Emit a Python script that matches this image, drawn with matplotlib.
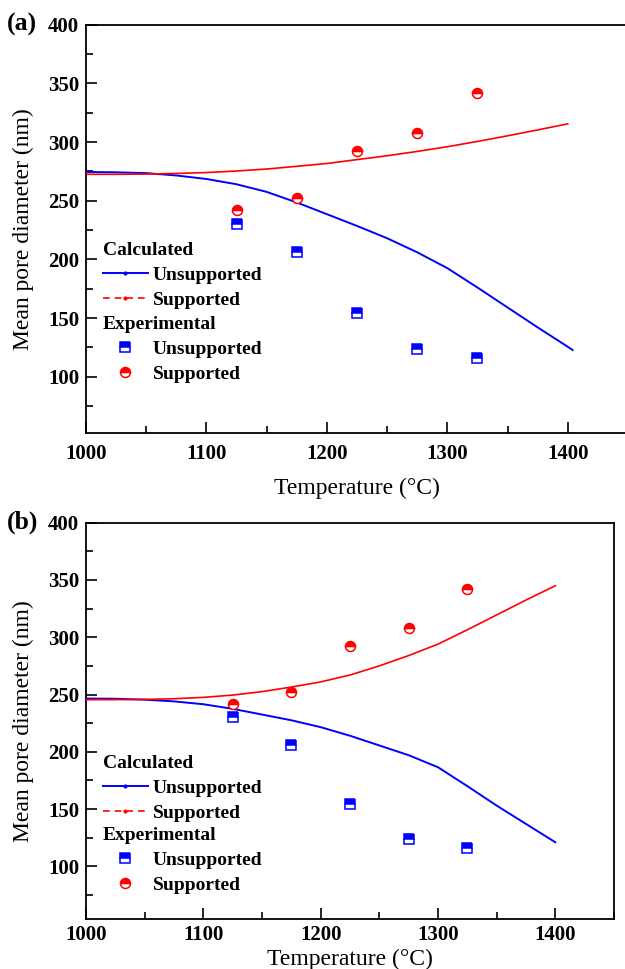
import matplotlib
matplotlib.use("Agg")
import matplotlib.pyplot as plt
from matplotlib.lines import Line2D
from matplotlib.ticker import MultipleLocator

plt.rcParams['font.family'] = ['Liberation Serif', 'DejaVu Serif']

# ---------------- data ----------------
calc_T = [1000, 1025, 1050, 1075, 1100, 1125, 1150, 1175, 1200, 1225,
          1250, 1275, 1300, 1325, 1350, 1375, 1400]

# panel (a)
a_unsup_T = calc_T + [1404]
a_unsup = [274.5, 274.2, 273.5, 271.5, 268.5, 264.0, 257.5, 248.5, 238.5, 228.5,
           218.0, 206.0, 192.5, 176.0, 159.0, 142.0, 125.5, 122.7]
a_sup = [272.5, 272.5, 272.7, 273.2, 274.0, 275.3, 277.0, 279.3, 281.7, 285.0,
         288.3, 292.0, 296.0, 300.5, 305.3, 310.3, 315.5]

# panel (b)
b_unsup = [246.5, 246.3, 245.5, 244.0, 241.5, 237.5, 232.5, 227.5, 221.5, 214.0,
           205.5, 197.0, 186.5, 170.0, 153.0, 137.0, 121.0]
b_sup = [245.5, 245.5, 245.7, 246.3, 247.5, 249.5, 252.5, 256.5, 261.0, 267.0,
         275.0, 284.0, 294.0, 306.5, 319.5, 332.5, 345.0]

# experimental
exp_T = [1125, 1175, 1225, 1275, 1325]
exp_unsup = [230, 206, 154, 124, 116]
exp_sup = [242, 252, 292, 308, 342]

xticks = [1000, 1100, 1200, 1300, 1400]
yticks = [100, 150, 200, 250, 300, 350, 400]

BLUE = '#0000ff'
RED = '#ff0000'

fig = plt.figure(figsize=(6.25, 9.69), dpi=100)

W, H = 625.0, 969.0
def add_ax(left, right, top, bottom):
    return fig.add_axes([left / W, 1 - bottom / H, (right - left) / W, (bottom - top) / H])

ax_a = add_ax(86, 628, 24.7, 433)
ax_b = add_ax(86, 614, 522.7, 919)

panels = [
    (ax_a, a_unsup_T, a_unsup, calc_T, a_sup, 52, '(a)', 0.4686, 0.2865, 55.0, 8),
    (ax_b, calc_T, b_unsup, calc_T, b_sup, 54, '(b)', 0.4144, 0.2322, 40.5, 4.5),
]

for ax, tu, yu, ts, ys, ymin, lab, ycalc, yexp, xlab_off, xpad in panels:
    ax.plot(tu, yu, color=BLUE, lw=1.4, zorder=3)
    ax.plot(ts, ys, color=RED, lw=1.2, zorder=3)
    ax.plot(exp_T, exp_unsup, ls='none', marker='s', ms=6.5, mec=BLUE, mfc=BLUE,
            mfcalt='white', fillstyle='top', mew=1.1, zorder=4)
    ax.plot(exp_T, exp_sup, ls='none', marker='o', ms=7.2, mec=RED, mfc=RED,
            mfcalt='white', fillstyle='top', mew=1.1, zorder=4)

    ax.set_xlim(1000, 1450)
    ax.set_ylim(ymin, 400)
    ax.set_xticks(xticks)
    ax.set_yticks(yticks)
    ax.xaxis.set_minor_locator(MultipleLocator(50))
    ax.yaxis.set_minor_locator(MultipleLocator(25))
    ax.tick_params(which='both', direction='in', top=False, right=False, width=1.2)
    ax.tick_params(which='major', length=8)
    ax.tick_params(which='minor', length=5)
    ax.tick_params(axis='x', which='major', pad=xpad, labelsize=15)
    ax.tick_params(axis='y', which='major', pad=5, labelsize=15)
    for t in ax.get_xticklabels() + ax.get_yticklabels():
        t.set_fontweight('bold')
    for s in ax.spines.values():
        s.set_linewidth(1.3)

    ax.set_xlabel('Temperature (\u00b0C)', fontsize=17)
    ax.set_ylabel('Mean pore diameter (nm)', fontsize=17)
    hpx = ax.get_position().height * H
    wpx = ax.get_position().width * W
    ax.xaxis.set_label_coords(0.5, -xlab_off / hpx)
    ax.xaxis.label.set_va('center')
    ax.yaxis.set_label_coords(-63.0 / wpx, 0.5)
    ax.yaxis.label.set_va('center')

    # legends
    h_calc = [
        Line2D([], [], color=BLUE, lw=1.4, marker='.', ms=4),
        Line2D([], [], color=RED, lw=1.2, ls=(0, (4, 3)), marker='.', ms=4),
    ]
    leg1 = ax.legend(h_calc, ['Unsupported', 'Supported'], loc='upper left',
                     bbox_to_anchor=(17.0 / wpx, ycalc), frameon=False,
                     title='Calculated', alignment='left', borderpad=0,
                     borderaxespad=0, handlelength=2.3, handletextpad=0.25,
                     labelspacing=0.38,
                     prop={'weight': 'bold', 'size': 14},
                     title_fontproperties={'weight': 'bold', 'size': 14})
    ax.add_artist(leg1)
    h_exp = [
        Line2D([], [], ls='none', marker='s', ms=6.5, mec=BLUE, mfc=BLUE,
               mfcalt='white', fillstyle='top', mew=1.1),
        Line2D([], [], ls='none', marker='o', ms=7.2, mec=RED, mfc=RED,
               mfcalt='white', fillstyle='top', mew=1.1),
    ]
    ax.legend(h_exp, ['Unsupported', 'Supported'], loc='upper left',
              bbox_to_anchor=(17.0 / wpx, yexp), frameon=False,
              title='Experimental', alignment='left', borderpad=0,
              borderaxespad=0, handlelength=2.3, handletextpad=0.25,
              labelspacing=0.38,
              prop={'weight': 'bold', 'size': 14},
              title_fontproperties={'weight': 'bold', 'size': 14})

    top_px = H - (ax.get_position().y1 * H)
    fig.text(7.0 / W, 1 - top_px / H, lab, fontsize=18.5, fontweight='bold',
             ha='left', va='center')

fig.savefig('out.png', dpi=100)
